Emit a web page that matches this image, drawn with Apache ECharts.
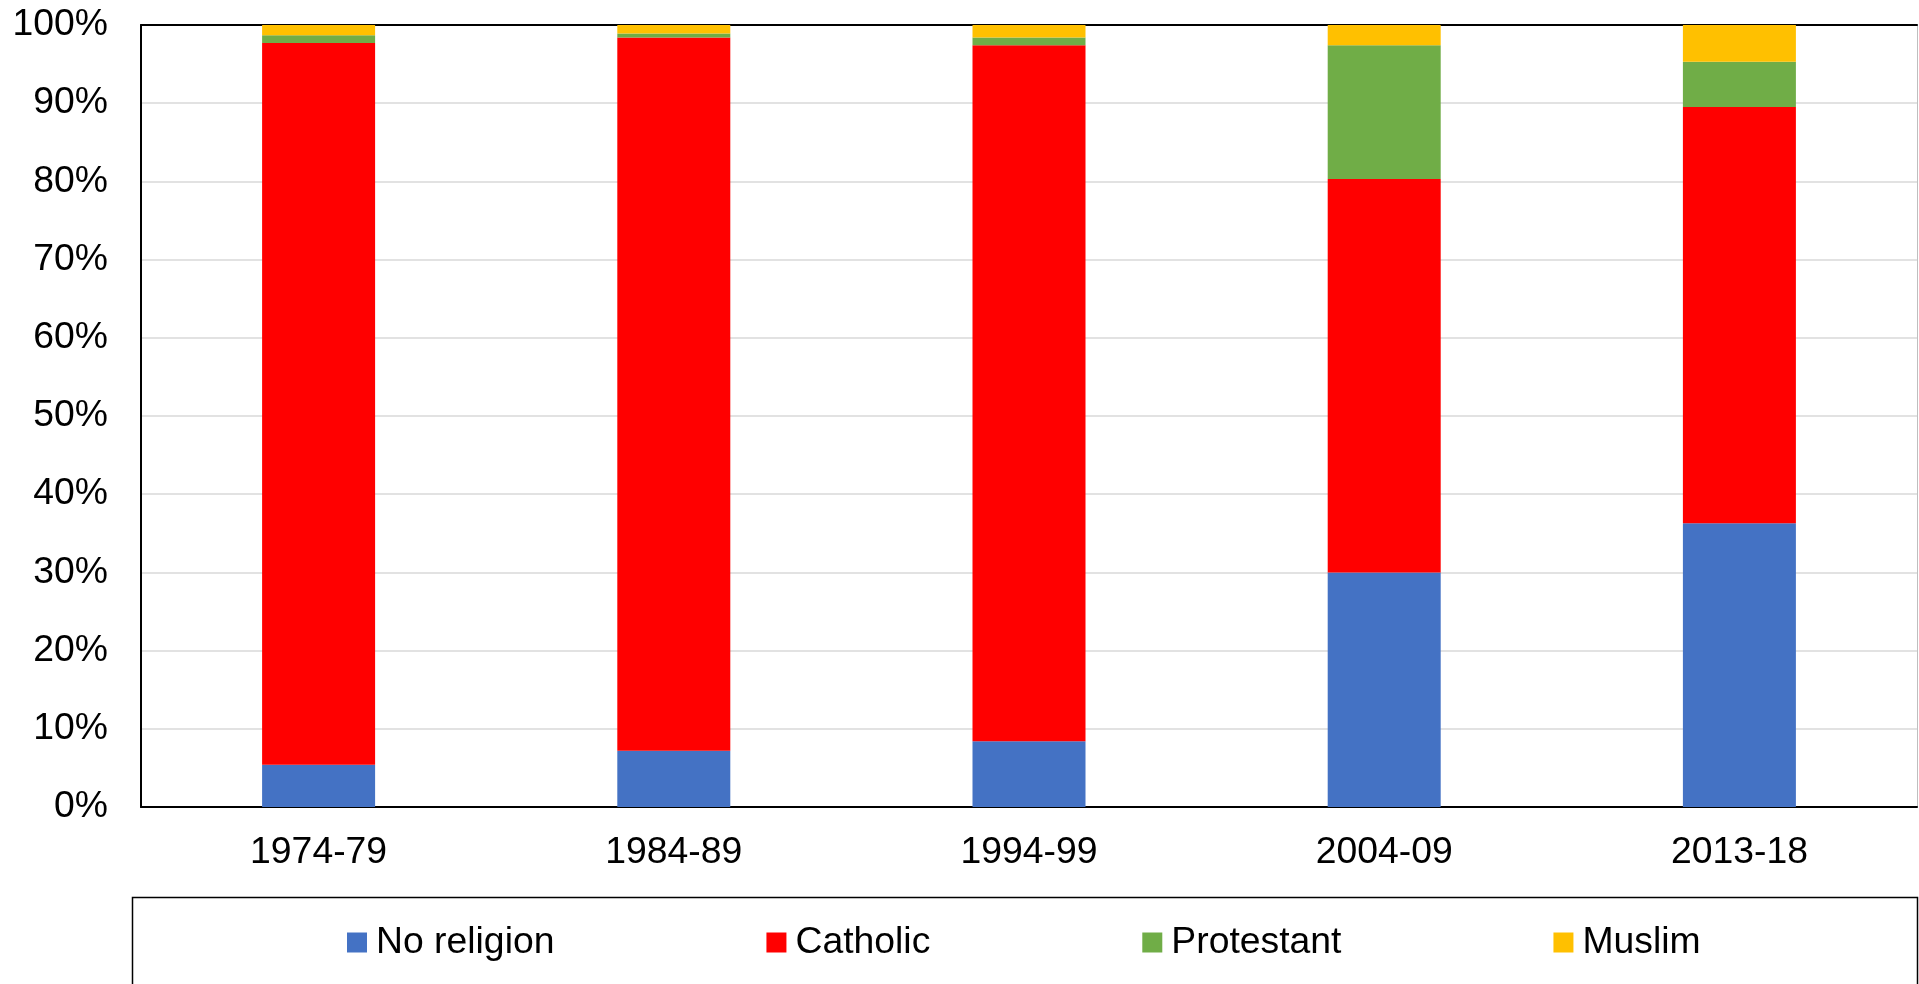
<!DOCTYPE html>
<html>
<head>
<meta charset="utf-8">
<script src="https://cdn.jsdelivr.net/npm/echarts@6/dist/echarts.min.js"></script>
<style>
html,body{margin:0;padding:0;background:#fff;}
#chart{width:1919px;height:984px;}
</style>
</head>
<body>
<div id="chart"></div>
<script>
var categories = ['1974-79', '1984-89', '1994-99', '2004-09', '2013-18'];
var noReligion = [5.4, 7.2, 8.4, 30.0, 36.3];
var catholic = [92.3, 91.2, 89.0, 50.3, 53.2];
var protestant = [1.0, 0.5, 1.0, 17.1, 5.8];
var muslim = [1.3, 1.1, 1.6, 2.6, 4.7];
var seriesNames = ['No religion', 'Catholic', 'Protestant', 'Muslim'];
var yTicks = [0, 10, 20, 30, 40, 50, 60, 70, 80, 90, 100];

var FONT = '"Liberation Sans", Arial, sans-serif';
var FS = 37.33;
var colors = ['#4472C4', '#FF0000', '#70AD47', '#FFC000'];
var chart = echarts.init(document.getElementById('chart'), null, {renderer: 'canvas'});

function bar(name, data, color) {
  return {
    name: name, type: 'bar', stack: 'total', data: data,
    barWidth: 113,
    itemStyle: {color: color},
    emphasis: {disabled: true},
    xAxisIndex: 0, yAxisIndex: 0
  };
}

chart.setOption({
  animation: false,
  backgroundColor: '#fff',
  textStyle: {fontFamily: FONT},
  grid: {left: 141, right: 2, top: 25, height: 782, containLabel: false},
  graphic: [{
    type: 'rect', shape: {x: 132.5, y: 897.5, width: 1785, height: 120},
    style: {fill: 'none', stroke: '#000', lineWidth: 1.5}, z: 0
  }],
  legend: {
    data: seriesNames,
    left: 347, top: 924, padding: 0,
    icon: 'rect', itemWidth: 20, itemHeight: 20, itemGap: 212,
    textStyle: {fontFamily: FONT, fontSize: FS, color: '#000', padding: [0, 0, 0, 4]}
  },
  xAxis: [{
    type: 'category', data: categories,
    axisLine: {show: true, onZero: false, lineStyle: {color: '#000', width: 2}},
    axisTick: {show: false},
    axisLabel: {fontFamily: FONT, fontSize: FS, color: '#000', margin: 27},
    splitLine: {show: false}
  }, {
    type: 'category', data: categories, position: 'top',
    axisLine: {show: true, onZero: false, lineStyle: {color: '#000', width: 2}},
    axisTick: {show: false}, axisLabel: {show: false}, splitLine: {show: false}
  }],
  yAxis: [{
    type: 'value', min: yTicks[0], max: yTicks[yTicks.length - 1], interval: 10,
    axisLine: {show: true, onZero: false, lineStyle: {color: '#000', width: 2}},
    axisTick: {show: false},
    axisLabel: {fontFamily: FONT, fontSize: FS, color: '#000', margin: 33, formatter: '{value}%'},
    splitLine: {show: true, showMinLine: false, showMaxLine: false, lineStyle: {color: '#D9D9D9', width: 1.5}}
  }, {
    type: 'value', min: 0, max: 100, position: 'right',
    axisLine: {show: true, onZero: false, lineStyle: {color: '#BFBFBF', width: 1}},
    axisTick: {show: false}, axisLabel: {show: false}, splitLine: {show: false}
  }],
  series: [
    bar(seriesNames[0], noReligion, colors[0]),
    bar(seriesNames[1], catholic, colors[1]),
    bar(seriesNames[2], protestant, colors[2]),
    bar(seriesNames[3], muslim, colors[3])
  ]
});
</script>
</body>
</html>
